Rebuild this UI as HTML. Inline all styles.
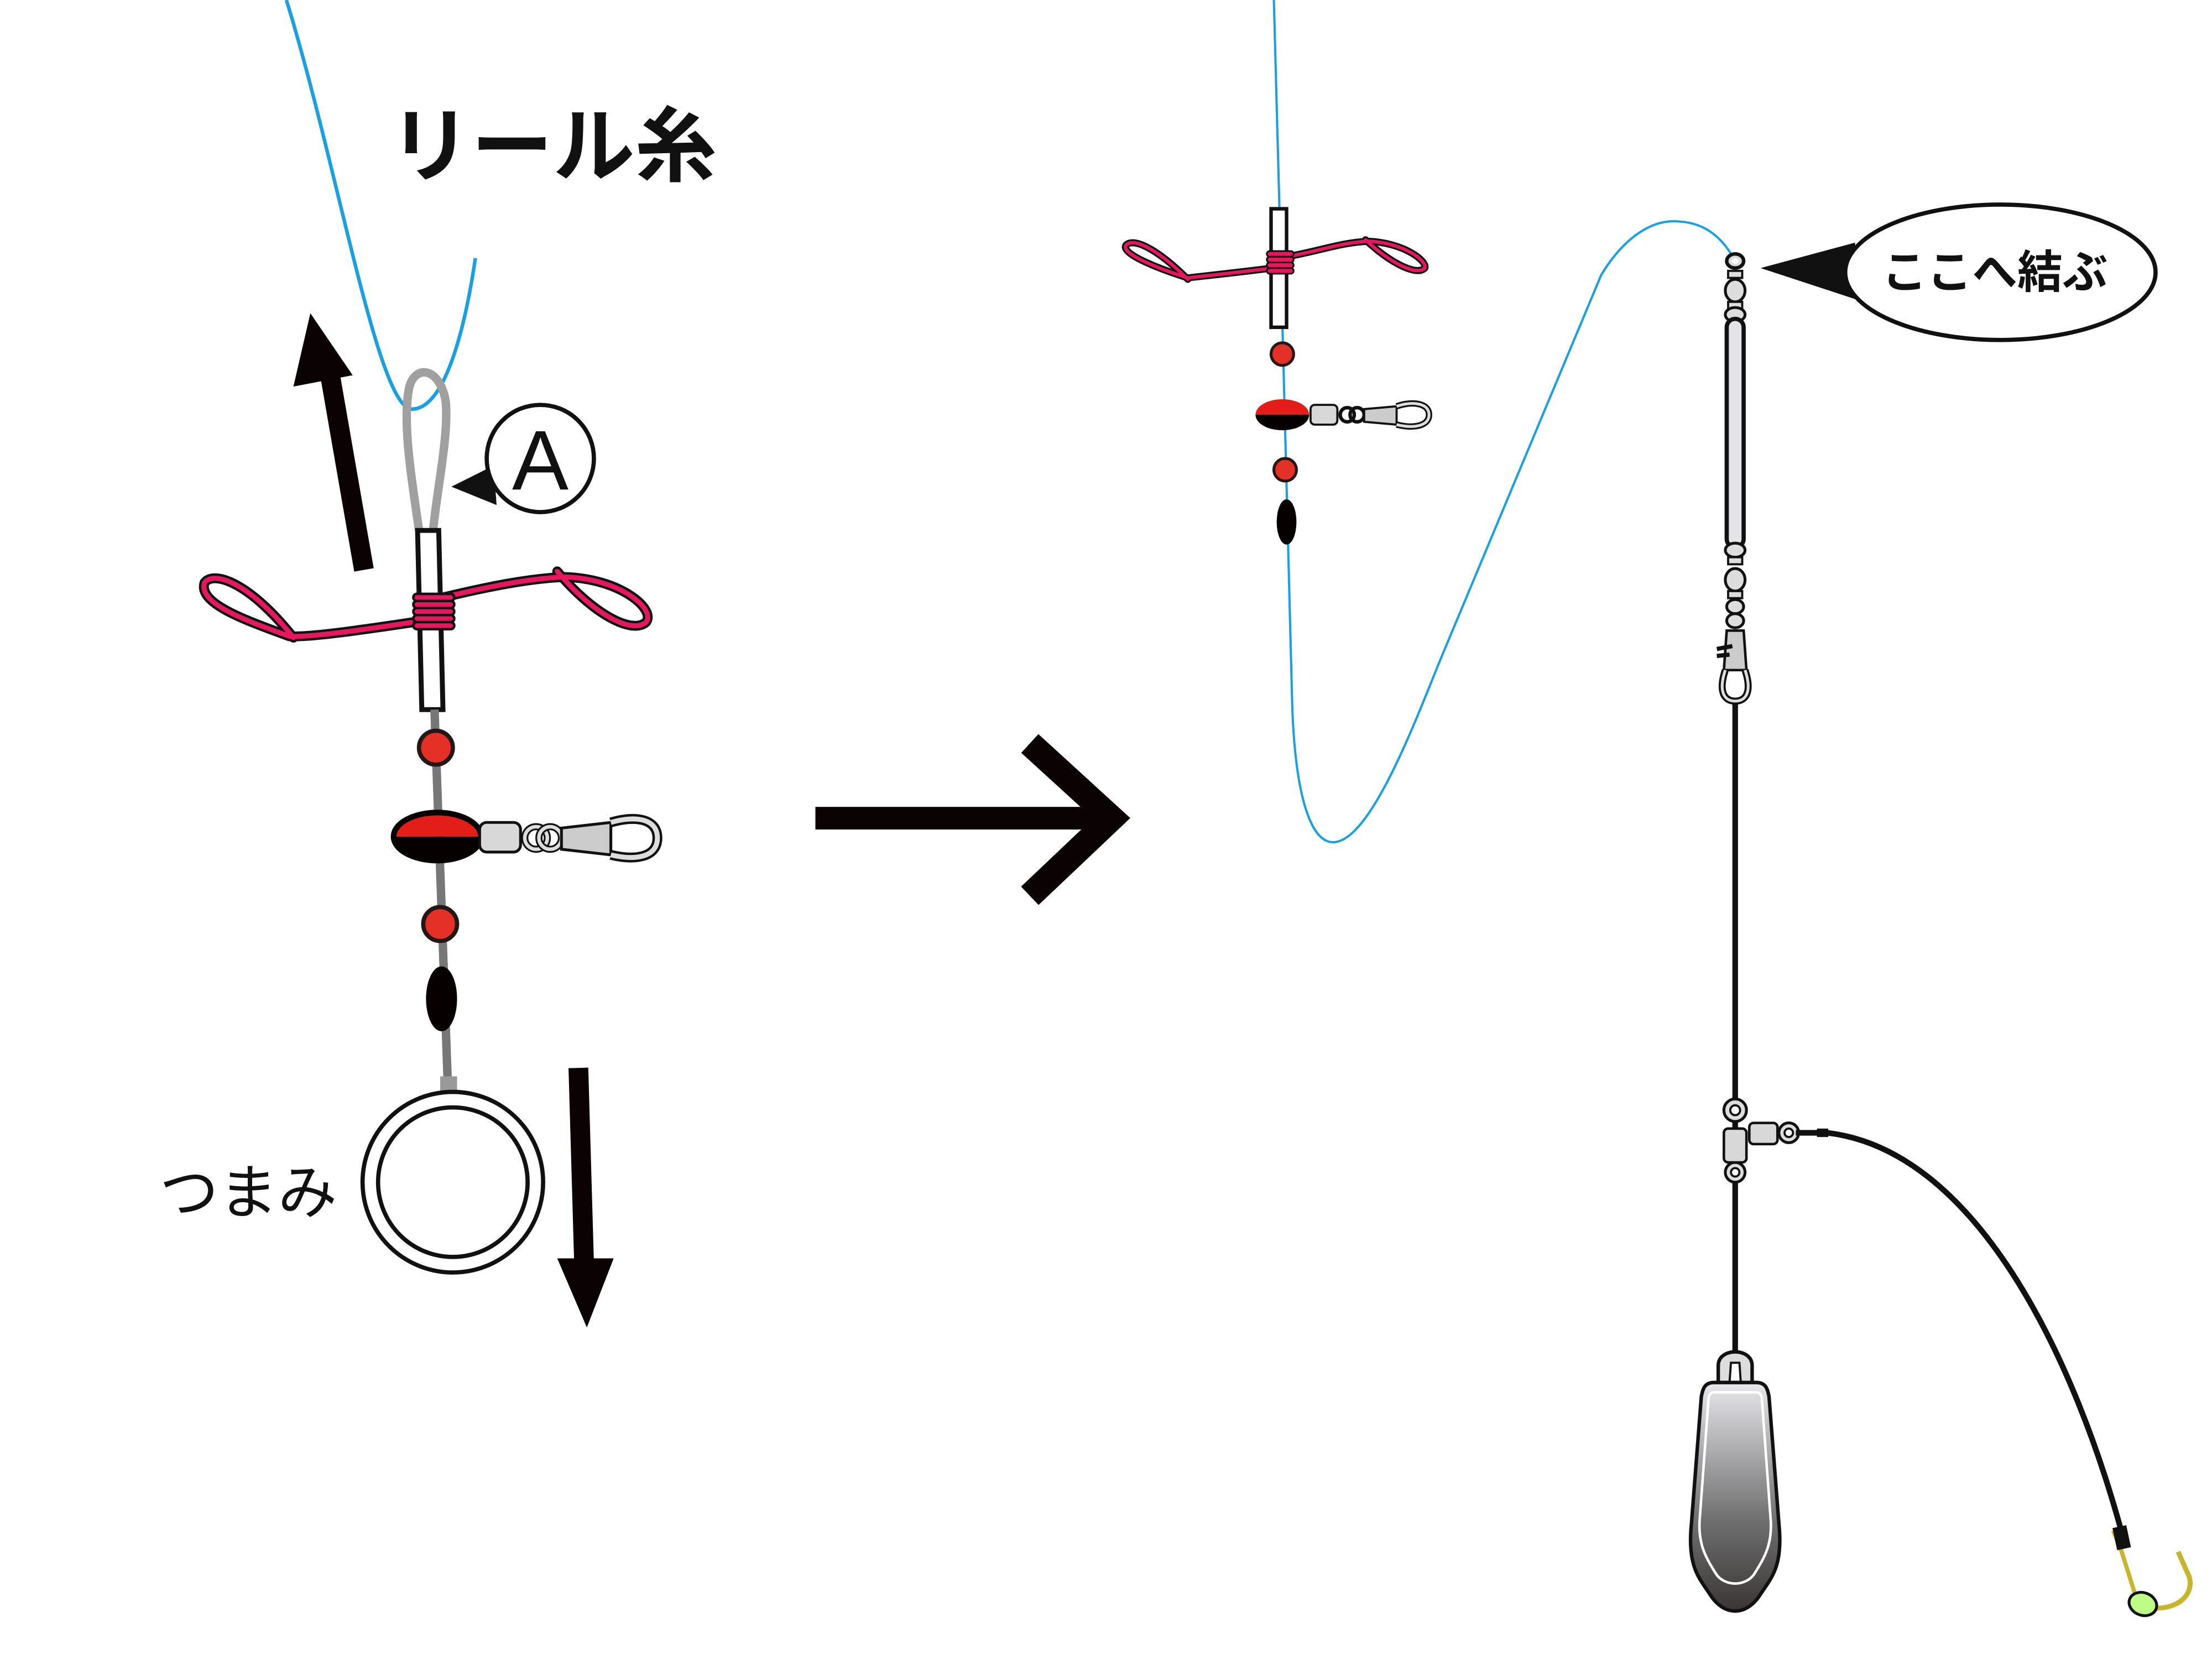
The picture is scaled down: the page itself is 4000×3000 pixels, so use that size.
<!DOCTYPE html>
<html><head><meta charset="utf-8"><style>
html,body{margin:0;padding:0;background:#fff;}
svg{display:block;}
text{font-family:"Liberation Sans","Noto Sans CJK JP",sans-serif;}
</style></head><body>
<svg width="4000" height="3000" viewBox="0 0 1568 1176" preserveAspectRatio="none" xmlns="http://www.w3.org/2000/svg">
<defs>
<linearGradient id="sk" x1="0" y1="0" x2="0" y2="1">
<stop offset="0" stop-color="#e8e8ec"/><stop offset="0.6" stop-color="#707070"/><stop offset="1" stop-color="#3a3535"/>
</linearGradient>
</defs>

<!-- ===== LEFT ===== -->
<path d="M203,0 C240,120 268,290 292,290 C316,290 330,230 337,183" fill="none" stroke="#1a9fe0" stroke-width="2.5"/>
<path d="M297,376 C292,340 285,300 290,275 C294,258 312,260 316,285 C318,310 310,345 307,376" fill="none" stroke="#a0a0a0" stroke-width="6"/>
<text x="276" y="124" font-size="58" font-weight="bold" fill="#111">リール糸</text>

<line x1="258" y1="404" x2="234" y2="266" stroke="#0a0203" stroke-width="14"/>
<polygon points="220,222 208,274 250,266" fill="#0a0203"/>

<polygon points="320,345 350,330 352,358" fill="#111"/>
<circle cx="383" cy="325" r="38" fill="#fff" stroke="#111" stroke-width="3"/>
<text x="383" y="347" font-size="60" text-anchor="middle" fill="#111">A</text>

<g fill="none" stroke-linecap="round">
<path d="M300,440 C260,446 220,452 205,451 C175,440 140,428 145,413 C152,404 178,414 208,452" stroke="#111" stroke-width="7"/>
<path d="M300,440 C260,446 220,452 205,451 C175,440 140,428 145,413 C152,404 178,414 208,452" stroke="#e5185f" stroke-width="3.5"/>
<path d="M312,424 C345,416 375,410 400,409 C440,410 465,432 458,441 C448,450 420,435 395,405" stroke="#111" stroke-width="7"/>
<path d="M312,424 C345,416 375,410 400,409 C440,410 465,432 458,441 C448,450 420,435 395,405" stroke="#e5185f" stroke-width="3.5"/>
</g>
<polygon points="296,376 311,376 314,503 299,503" fill="#fff" stroke="#111" stroke-width="3.5"/>
<g stroke="#111" stroke-width="1.8" fill="#e5185f">
<rect x="293" y="421" width="29" height="5" rx="2.5"/>
<rect x="293" y="426" width="29" height="5" rx="2.5"/>
<rect x="293" y="431" width="29" height="5" rx="2.5"/>
<rect x="293" y="436" width="29" height="5" rx="2.5"/>
<rect x="293" y="441" width="29" height="5" rx="2.5"/>
</g>
<line x1="308" y1="503" x2="318" y2="785" stroke="#777" stroke-width="6"/>
<circle cx="309" cy="530" r="12" fill="#e53028" stroke="#231815" stroke-width="3"/>
<path d="M280,593 A30,16 0 0 1 340,593 Z" fill="#e31e18"/>
<path d="M280,593 A30,16 0 0 0 340,593 Z" fill="#070000"/>
<ellipse cx="310" cy="593" rx="31" ry="17" fill="none" stroke="#070000" stroke-width="4"/>
<rect x="340" y="583" width="29" height="21" rx="5" fill="#d8d8d8" stroke="#111" stroke-width="2"/>
<circle cx="380" cy="594" r="8" fill="none" stroke="#111" stroke-width="5"/><circle cx="380" cy="594" r="8" fill="none" stroke="#ddd" stroke-width="2.5"/>
<circle cx="390" cy="594" r="8" fill="none" stroke="#111" stroke-width="5"/><circle cx="390" cy="594" r="8" fill="none" stroke="#ddd" stroke-width="2.5"/>
<polygon points="398,587 433,583 433,606 398,602" fill="#ccc" stroke="#111" stroke-width="2"/>
<path d="M433,583 C450,578 466,580 466,594 C466,608 450,610 433,606" fill="none" stroke="#111" stroke-width="7"/>
<path d="M433,583 C450,578 466,580 466,594 C466,608 450,610 433,606" fill="none" stroke="#ddd" stroke-width="3.5"/>
<circle cx="312" cy="655" r="12" fill="#e53028" stroke="#231815" stroke-width="3"/>
<ellipse cx="313" cy="708" rx="11" ry="23" fill="#070000"/>
<rect x="312" y="763" width="12" height="16" fill="#999"/>
<circle cx="321" cy="838" r="64" fill="#fff" stroke="#111" stroke-width="3"/>
<circle cx="321" cy="838" r="53" fill="#fff" stroke="#111" stroke-width="3"/>
<text x="113" y="860" font-size="42" fill="#111">つまみ</text>
<line x1="410" y1="757" x2="414" y2="895" stroke="#0a0203" stroke-width="14"/>
<polygon points="395,892 435,892 416,941" fill="#0a0203"/>

<line x1="578" y1="580" x2="786" y2="580" stroke="#0a0203" stroke-width="16"/>
<polyline points="730,527 788,580 730,635" fill="none" stroke="#0a0203" stroke-width="18"/>

<!-- ===== MIDDLE ===== -->
<path d="M903,0 L907,150 L916,500 C918,560 928,597 945,597 C970,597 1000,520 1020,470 L1135,195 C1150,170 1170,155 1190,157 C1210,158 1222,170 1230,185" fill="none" stroke="#1a9fe0" stroke-width="1.6"/>
<g fill="none" stroke-linecap="round">
<path d="M902,190 C870,194 850,196 842,197 C820,190 795,180 798,174 C803,168 820,176 842,198" stroke="#111" stroke-width="5"/>
<path d="M902,190 C870,194 850,196 842,197 C820,190 795,180 798,174 C803,168 820,176 842,198" stroke="#e5185f" stroke-width="2.4"/>
<path d="M912,182 C935,178 950,172 970,171 C995,172 1012,185 1010,190 C1004,196 985,186 968,170" stroke="#111" stroke-width="5"/>
<path d="M912,182 C935,178 950,172 970,171 C995,172 1012,185 1010,190 C1004,196 985,186 968,170" stroke="#e5185f" stroke-width="2.4"/>
</g>
<rect x="901" y="148" width="11" height="84" fill="#fff" stroke="#111" stroke-width="2.5"/>
<g stroke="#111" stroke-width="1.2" fill="#e5185f">
<rect x="898" y="178" width="19" height="4" rx="2"/><rect x="898" y="182" width="19" height="4" rx="2"/><rect x="898" y="186" width="19" height="4" rx="2"/><rect x="898" y="190" width="19" height="4" rx="2"/>
</g>
<circle cx="909" cy="251" r="8" fill="#e53028" stroke="#231815" stroke-width="2"/>
<path d="M890,294 A19,11 0 0 1 928,294 Z" fill="#e31e18"/>
<path d="M890,294 A19,11 0 0 0 928,294 Z" fill="#070000"/>
<rect x="929" y="287" width="19" height="14" rx="3" fill="#d8d8d8" stroke="#111" stroke-width="1.5"/>
<circle cx="955" cy="294" r="5" fill="none" stroke="#111" stroke-width="2.5"/>
<circle cx="962" cy="294" r="5" fill="none" stroke="#111" stroke-width="2.5"/>
<polygon points="967,290 990,288 990,301 967,299" fill="#ccc" stroke="#111" stroke-width="1.5"/>
<path d="M990,288 C1002,284 1013,286 1013,294 C1013,302 1002,304 990,301" fill="none" stroke="#111" stroke-width="4.5"/>
<path d="M990,288 C1002,284 1013,286 1013,294 C1013,302 1002,304 990,301" fill="none" stroke="#ddd" stroke-width="2"/>
<circle cx="911" cy="333" r="8" fill="#e53028" stroke="#231815" stroke-width="2"/>
<ellipse cx="912" cy="370" rx="7" ry="16" fill="#070000"/>

<!-- ===== RIGHT ===== -->
<line x1="1230" y1="495" x2="1230" y2="965" stroke="#111" stroke-width="4"/>
<ellipse cx="1230" cy="185" rx="6" ry="5" fill="#ddd" stroke="#111" stroke-width="2.5"/>
<ellipse cx="1230" cy="185" rx="2.5" ry="2" fill="#fff"/>
<rect x="1225" y="192" width="10" height="5" fill="#ddd" stroke="#111" stroke-width="1.5"/>
<ellipse cx="1230" cy="206" rx="7" ry="8" fill="#ddd" stroke="#111" stroke-width="2"/>
<rect x="1225" y="214" width="10" height="5" fill="#ddd" stroke="#111" stroke-width="1.5"/>
<ellipse cx="1230" cy="223" rx="7" ry="5" fill="#ddd" stroke="#111" stroke-width="2"/>
<rect x="1224" y="226" width="12" height="162" rx="6" fill="#e4e4e8" stroke="#111" stroke-width="3"/>
<ellipse cx="1230" cy="390" rx="7" ry="5" fill="#ddd" stroke="#111" stroke-width="2"/>
<rect x="1225" y="395" width="10" height="5" fill="#ddd" stroke="#111" stroke-width="1.5"/>
<ellipse cx="1230" cy="411" rx="7" ry="8" fill="#ddd" stroke="#111" stroke-width="2"/>
<rect x="1225" y="419" width="10" height="5" fill="#ddd" stroke="#111" stroke-width="1.5"/>
<ellipse cx="1230" cy="430" rx="6" ry="5" fill="#ddd" stroke="#111" stroke-width="2"/>
<ellipse cx="1230" cy="440" rx="6" ry="5" fill="#ddd" stroke="#111" stroke-width="2"/>
<polygon points="1224,447 1236,447 1238,475 1222,475" fill="#ccc" stroke="#111" stroke-width="1.8"/>
<path d="M1217,460 L1228,458 M1217,465 L1226,464" stroke="#111" stroke-width="3"/>
<path d="M1223,475 C1218,490 1222,497 1230,497 C1238,497 1242,490 1237,475" fill="none" stroke="#111" stroke-width="5"/>
<path d="M1223,475 C1218,490 1222,497 1230,497 C1238,497 1242,490 1237,475" fill="none" stroke="#ddd" stroke-width="2"/>
<polygon points="1248,190 1315,172 1315,212" fill="#111"/>
<ellipse cx="1418" cy="193" rx="110" ry="48" fill="#fff" stroke="#111" stroke-width="3"/>
<text x="1414" y="204" font-size="32" font-weight="bold" text-anchor="middle" fill="#111">ここへ結ぶ</text>
<circle cx="1230" cy="787" r="8" fill="#ddd" stroke="#111" stroke-width="2"/><circle cx="1230" cy="787" r="3.5" fill="#fff" stroke="#111" stroke-width="1.5"/>
<circle cx="1230" cy="831" r="7" fill="#ddd" stroke="#111" stroke-width="2"/><circle cx="1230" cy="831" r="3" fill="#fff" stroke="#111" stroke-width="1.5"/>
<rect x="1240" y="796" width="20" height="15" rx="3" fill="#d8d8d8" stroke="#111" stroke-width="1.8"/>
<rect x="1222" y="800" width="16" height="24" rx="3" fill="#d8d8d8" stroke="#111" stroke-width="1.8"/>
<circle cx="1268" cy="803" r="7" fill="#ddd" stroke="#111" stroke-width="2"/><circle cx="1268" cy="803" r="3" fill="#fff" stroke="#111" stroke-width="1.5"/>
<path d="M1273,803 L1295,803 C1400,815 1470,960 1505,1090" fill="none" stroke="#111" stroke-width="4"/>
<rect x="1288" y="800" width="8" height="6" fill="#111"/>
<path d="M1218,980 L1218,968 C1218,955 1242,955 1242,968 L1242,980" fill="#ddd" stroke="#111" stroke-width="2.5"/>
<path d="M1226,980 L1227,966 L1233,966 L1234,980" fill="#fff" stroke="#111" stroke-width="1.5"/>
<path d="M1215,980 L1245,980 C1252,980 1253,985 1254,990 L1261,1080 C1264,1110 1256,1118 1248,1130 C1238,1146 1222,1146 1212,1130 C1204,1118 1196,1110 1199,1080 L1206,990 C1207,985 1208,980 1215,980 Z" fill="url(#sk)" stroke="#111" stroke-width="2.5"/>
<path d="M1215,987 L1245,987 C1248,987 1249,990 1249,993 L1255,1075 C1257,1095 1250,1105 1244,1115 C1238,1125 1222,1125 1216,1115 C1210,1105 1203,1095 1205,1075 L1211,993 C1211,990 1212,987 1215,987 Z" fill="none" stroke="#fff" stroke-width="1.8"/>
<path d="M1498,1085 L1504,1100 L1515,1135" fill="none" stroke="#c8b52e" stroke-width="3"/>
<path d="M1528,1140 C1545,1140 1555,1130 1552,1118 L1544,1100" fill="none" stroke="#c8b52e" stroke-width="3.5"/>
<rect x="1499" y="1082" width="10" height="16" fill="#111" transform="rotate(-12 1504 1090)"/>
<ellipse cx="1519" cy="1137" rx="10" ry="8" fill="#bdfc86" stroke="#111" stroke-width="2" transform="rotate(20 1519 1137)"/>
</svg>
</body></html>
